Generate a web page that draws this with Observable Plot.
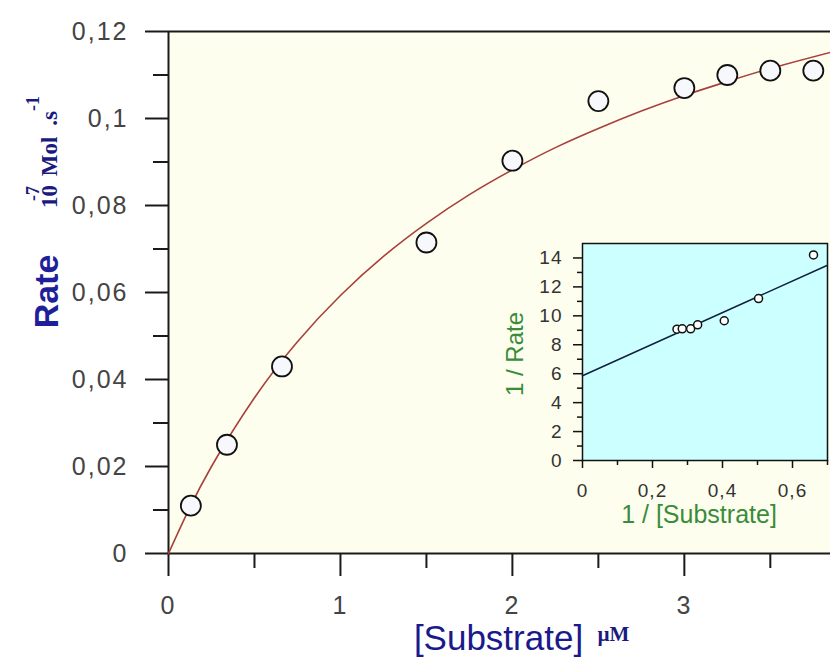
<!DOCTYPE html>
<html>
<head>
<meta charset="utf-8">
<script src="https://cdn.jsdelivr.net/npm/d3@7"></script>
<script src="https://cdn.jsdelivr.net/npm/@observablehq/plot@0.6"></script>
<style>
  html, body { margin: 0; padding: 0; background: #ffffff; }
  #wrap { position: relative; width: 830px; height: 668px; overflow: hidden; }
  #inset { position: absolute; left: 480px; top: 230px; }
  #main g[aria-label="y-axis tick label"] text,
  #main g[aria-label="x-axis tick label"] text { letter-spacing: 2px; }
  #inset g[aria-label="y-axis tick label"] text,
  #inset g[aria-label="x-axis tick label"] text { letter-spacing: 1px; }
</style>
</head>
<body>
<div id="wrap"><div id="main"></div><div id="inset"></div></div>
<script>
// ---- Main chart data (Michaelis–Menten) ----
const substrate = [0.13, 0.34, 0.66, 1.5, 2.0, 2.5, 3.0, 3.25, 3.5, 3.75];
const rate      = [0.011, 0.025, 0.043, 0.0715, 0.0903, 0.104, 0.107, 0.110, 0.111, 0.111];

// fitted curve
const curveS = [0, 0.1, 0.25, 0.5, 0.75, 1.0, 1.25, 1.5, 1.75, 2.0, 2.25, 2.5, 2.75, 3.0, 3.25, 3.5, 3.85];
const curveV = [0, 0.0086, 0.0200, 0.0358, 0.0487, 0.0593, 0.0683, 0.0759, 0.0825, 0.0882, 0.0933, 0.0977, 0.1017, 0.1053, 0.1085, 0.1115, 0.1152];

const xTicks = [0, 1, 2, 3];
const xTickLabels = ["0", "1", "2", "3"];
const xMinor = [0.5, 1.5, 2.5, 3.5];
const yTicks = [0, 0.02, 0.04, 0.06, 0.08, 0.1, 0.12];
const yTickLabels = ["0", "0,02", "0,04", "0,06", "0,08", "0,1", "0,12"];
const yMinor = [0.01, 0.03, 0.05, 0.07, 0.09, 0.11];

// ---- Inset data (Lineweaver–Burk) ----
const invS    = [0.270, 0.285, 0.309, 0.329, 0.405, 0.503, 0.660];
const invRate = [9.08, 9.10, 9.10, 9.38, 9.66, 11.19, 14.21];
const fitInvS = [0, 0.7];
const fitInvRate = [5.86, 13.5];

const ixTicks = [0, 0.2, 0.4, 0.6];
const ixTickLabels = ["0", "0,2", "0,4", "0,6"];
const ixMinor = [0.1, 0.3, 0.5, 0.7];
const iyTicks = [0, 2, 4, 6, 8, 10, 12, 14];
const iyTickLabels = ["0", "2", "4", "6", "8", "10", "12", "14"];
const iyMinor = [1, 3, 5, 7, 9, 11, 13];

const sans = "'Liberation Sans', Arial, sans-serif";
const serif = "'Liberation Serif', 'Times New Roman', serif";

const points = substrate.map((s, i) => ({s, v: rate[i]}));
const curve = curveS.map((s, i) => ({s, v: curveV[i]}));
const fmt = (ticks, labels) => d => labels[ticks.indexOf(d)];
const unit = {frameAnchor: "top-left", rotate: -90, textAnchor: "middle", lineAnchor: "bottom", fontWeight: "bold", fill: "#1a1a80", fontFamily: serif};

const main = Plot.plot({
  width: 830,
  height: 668,
  marginLeft: 168,
  marginRight: 0,
  marginTop: 31,
  marginBottom: 115,
  style: {background: "#ffffff", fontFamily: sans, overflow: "visible"},
  x: {domain: [0, 3.85]},
  y: {domain: [0, 0.12]},
  marks: [
    Plot.frame({fill: "#fefeee", stroke: null}),
    Plot.ruleY([0.12], {stroke: "#1a1a1a", strokeWidth: 2}),
    Plot.ruleX([0], {stroke: "#1a1a1a", strokeWidth: 2}),
    Plot.ruleY([0], {stroke: "#1a1a1a", strokeWidth: 2}),
    Plot.axisY({ticks: yTicks, tickSize: 23, tickFormat: () => "", color: "#1a1a1a", strokeWidth: 2, label: null}),
    Plot.axisY({ticks: yMinor, tickSize: 15, tickFormat: () => "", color: "#1a1a1a", strokeWidth: 2, label: null}),
    Plot.axisY({ticks: yTicks, tickSize: 0, tickPadding: 40, tickFormat: fmt(yTicks, yTickLabels), color: "#444", fontSize: 25, fontFamily: sans, label: null}),
    Plot.axisX({ticks: xTicks, tickSize: 23, tickFormat: () => "", color: "#1a1a1a", strokeWidth: 2, label: null}),
    Plot.axisX({ticks: xMinor, tickSize: 15, tickFormat: () => "", color: "#1a1a1a", strokeWidth: 2, label: null}),
    Plot.axisX({ticks: xTicks, tickSize: 0, tickPadding: 43, tickFormat: fmt(xTicks, xTickLabels), color: "#444", fontSize: 25, fontFamily: sans, label: null}),
    Plot.line(curve, {x: "s", y: "v", curve: "natural", stroke: "#a8403c", strokeWidth: 1.6}),
    Plot.dot(points, {x: "s", y: "v", r: 10, stroke: "#111", strokeWidth: 1.8, fill: "#f7f8fc"}),
    // y-axis title
    Plot.text(["Rate"], {frameAnchor: "top-left", rotate: -90, dx: -111, dy: 260, textAnchor: "middle", lineAnchor: "bottom", fontSize: 34, fontWeight: "bold", fill: "#1f1f99", fontFamily: sans}),
    Plot.text(["10"], {...unit, dx: -112, dy: 165, fontSize: 23}),
    Plot.text(["-7"], {...unit, dx: -130, dy: 162, fontSize: 18}),
    Plot.text(["Mol"], {...unit, dx: -112, dy: 125, fontSize: 23}),
    Plot.text([".s"], {...unit, dx: -112, dy: 87, fontSize: 23}),
    Plot.text(["-1"], {...unit, dx: -130, dy: 72, fontSize: 18}),
    // x-axis title
    Plot.text(["[Substrate]"], {frameAnchor: "bottom", dx: -1, dy: 96, textAnchor: "middle", lineAnchor: "bottom", fontSize: 35, fill: "#1a1a8c", fontFamily: sans}),
    Plot.text(["µM"], {frameAnchor: "bottom-left", dx: 429, dy: 87, textAnchor: "start", lineAnchor: "bottom", fontSize: 21, fontWeight: "bold", fill: "#1a1a80", fontFamily: serif})
  ]
});
document.getElementById("main").appendChild(main);

const ipts = invS.map((x, i) => ({x, y: invRate[i]}));
const ifit = fitInvS.map((x, i) => ({x, y: fitInvRate[i]}));
const green = "#3a8c3a";

const inset = Plot.plot({
  width: 350,
  height: 300,
  marginLeft: 102,
  marginRight: 3,
  marginTop: 13,
  marginBottom: 70,
  style: {background: "transparent", fontFamily: sans, overflow: "visible"},
  x: {domain: [0, 0.7]},
  y: {domain: [0, 15]},
  marks: [
    Plot.frame({fill: "#ccffff", stroke: "#111", strokeWidth: 1.5}),
    Plot.axisY({ticks: iyTicks, tickSize: 9, tickFormat: () => "", color: "#111", strokeWidth: 1.5, label: null}),
    Plot.axisY({ticks: iyMinor, tickSize: 5, tickFormat: () => "", color: "#111", strokeWidth: 1.5, label: null}),
    Plot.axisY({ticks: iyTicks, tickSize: 0, tickPadding: 20, tickFormat: fmt(iyTicks, iyTickLabels), color: "#333", fontSize: 19, fontFamily: sans, label: null}),
    Plot.axisX({ticks: ixTicks, tickSize: 8, tickFormat: () => "", color: "#111", strokeWidth: 1.5, label: null}),
    Plot.axisX({ticks: ixMinor, tickSize: 5, tickFormat: () => "", color: "#111", strokeWidth: 1.5, label: null}),
    Plot.axisX({ticks: ixTicks, tickSize: 0, tickPadding: 23, tickFormat: fmt(ixTicks, ixTickLabels), color: "#333", fontSize: 19, fontFamily: sans, label: null}),
    Plot.line(ifit, {x: "x", y: "y", stroke: "#102040", strokeWidth: 1.5}),
    Plot.dot(ipts, {x: "x", y: "y", r: 4, stroke: "#111", strokeWidth: 1.5, fill: "#ffffff"}),
    Plot.text(["1 / [Substrate]"], {frameAnchor: "bottom", dx: -6, dy: 62, textAnchor: "middle", lineAnchor: "bottom", fontSize: 25, fill: green, fontFamily: sans}),
    Plot.text(["1 / Rate"], {frameAnchor: "left", rotate: -90, dx: -60, dy: 2, textAnchor: "middle", lineAnchor: "bottom", fontSize: 24, fill: green, fontFamily: sans})
  ]
});
document.getElementById("inset").appendChild(inset);
</script>
</body>
</html>
